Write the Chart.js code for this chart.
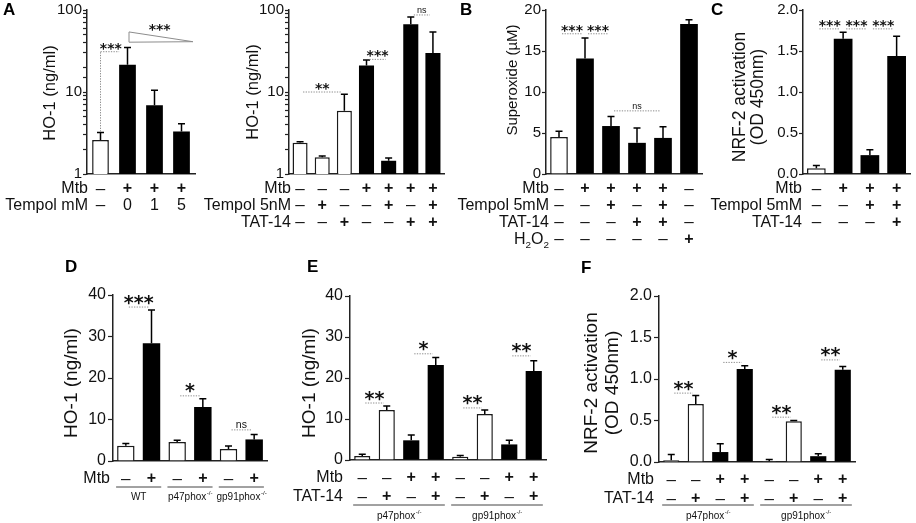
<!DOCTYPE html>
<html><head><meta charset="utf-8">
<script src="https://cdn.jsdelivr.net/npm/chart.js@4.4.1/dist/chart.umd.min.js"></script>
<style>
html,body{margin:0;padding:0;background:#fff;}
#wrap{position:relative;width:916px;height:523px;overflow:hidden;background:#fff;}
#wrap canvas{position:absolute;left:0;top:0;}
</style></head><body><div id="wrap"></div>
<script>
const FONT = '"Liberation Sans", Arial, sans-serif';
const STARFONT = '"DejaVu Sans", sans-serif';

// ---------- Panel A (left): HO-1 vs Tempol dose ----------
const catsA1 = ['Ctrl', 'Mtb', 'Mtb+Tempol 1', 'Mtb+Tempol 5'];
const hoA1 = [2.6, 21.5, 6.9, 3.3];
const semA1 = [0.6, 13.5, 3.6, 0.8];
const mtbA1 = ['–', '+', '+', '+'];
const tempolA1 = ['–', '0', '1', '5'];
const logTicks = [1, 10, 100];

// ---------- Panel A (right): HO-1, Tempol 5nM / TAT-14 ----------
const catsA2 = ['c1', 'c2', 'c3', 'c4', 'c5', 'c6', 'c7'];
const hoA2 = [2.4, 1.6, 5.9, 21, 1.45, 67, 30];
const semA2 = [0.07, 0.06, 3.5, 3.5, 0.12, 15, 24];
const mtbA2 = ['–', '–', '–', '+', '+', '+', '+'];
const tempolA2 = ['–', '+', '–', '–', '+', '–', '+'];
const tatA2 = ['–', '–', '+', '–', '–', '+', '+'];

// ---------- Panel B: Superoxide ----------
const catsB = ['b1', 'b2', 'b3', 'b4', 'b5', 'b6'];
const supB = [4.5, 14.1, 5.85, 3.8, 4.4, 18.3];
const semB = [0.7, 2.5, 1.15, 1.8, 1.35, 0.5];
const mtbB = ['–', '+', '+', '+', '+', '–'];
const tempolB = ['–', '–', '+', '–', '+', '–'];
const tatB = ['–', '–', '–', '+', '+', '–'];
const h2o2B = ['–', '–', '–', '–', '–', '+'];

// ---------- Panel C: NRF-2 activation ----------
const catsC = ['k1', 'k2', 'k3', 'k4'];
const nrfC = [0.07, 1.65, 0.23, 1.44];
const semC = [0.035, 0.08, 0.065, 0.24];
const mtbC = ['–', '+', '+', '+'];
const tempolC = ['–', '–', '+', '+'];
const tatC = ['–', '–', '–', '+'];

// ---------- Panel D: HO-1 in knockouts ----------
const catsD = ['d1', 'd2', 'd3', 'd4', 'd5', 'd6'];
const hoD = [3.7, 28.4, 4.6, 13.0, 2.9, 5.2];
const semD = [0.5, 8.0, 0.4, 2.0, 0.7, 1.2];
const mtbD = ['–', '+', '–', '+', '–', '+'];
const strainD = ['WT', 'WT', 'p47phox-/-', 'p47phox-/-', 'gp91phox-/-', 'gp91phox-/-'];

// ---------- Panel E: HO-1 with TAT-14 ----------
const catsE = ['e1', 'e2', 'e3', 'e4', 'e5', 'e6', 'e7', 'e8'];
const hoE = [1.0, 12.2, 4.8, 23.2, 0.8, 11.2, 3.8, 21.7];
const semE = [0.4, 1.0, 1.3, 1.8, 0.3, 1.0, 1.0, 2.5];
const mtbE = ['–', '–', '+', '+', '–', '–', '+', '+'];
const tatE = ['–', '+', '–', '+', '–', '+', '–', '+'];
const strainE = ['p47phox-/-', 'p47phox-/-', 'p47phox-/-', 'p47phox-/-', 'gp91phox-/-', 'gp91phox-/-', 'gp91phox-/-', 'gp91phox-/-'];

// ---------- Panel F: NRF-2 with TAT-14 ----------
const catsF = ['f1', 'f2', 'f3', 'f4', 'f5', 'f6', 'f7', 'f8'];
const nrfF = [0.02, 0.70, 0.12, 1.12, 0.01, 0.49, 0.07, 1.11];
const semF = [0.07, 0.10, 0.10, 0.04, 0.02, 0.01, 0.03, 0.04];
const mtbF = ['–', '–', '+', '+', '–', '–', '+', '+'];
const tatF = ['–', '+', '–', '+', '–', '+', '–', '+'];
const strainF = strainE.slice();

// ---------- Significance annotations (bar indices, level in data units) ----------
const sigA1 = [{ a: 0, b: 1, at: 31, text: '***', bracket: true }];
const trendA1 = { a: 1, b: 3, hi: 54, lo: 40.5, text: '***' };
const sigA2 = [{ a: 0, b: 2, at: 10, text: '**' }, { a: 3, b: 4, at: 25, text: '***' }, { a: 5, b: 6, at: 87, text: 'ns' }];
const sigB = [{ a: 0, b: 1, at: 17.1, text: '***' }, { a: 1, b: 2, at: 17.1, text: '***' }, { a: 2, b: 4, at: 7.7, text: 'ns' }];
const sigC = [{ a: 0, b: 1, at: 1.77, text: '***' }, { a: 1, b: 2, at: 1.77, text: '***' }, { a: 2, b: 3, at: 1.77, text: '***' }];
const sigD = [{ a: 0, b: 1, at: 37.1, text: '***' }, { a: 2, b: 3, at: 15.7, text: '*' }, { a: 4, b: 5, at: 7.5, text: 'ns' }];
const sigE = [{ a: 0, b: 1, at: 13.9, text: '**' }, { a: 2, b: 3, at: 25.9, text: '*' }, { a: 4, b: 5, at: 12.7, text: '**' }, { a: 6, b: 7, at: 25.4, text: '**' }];
const sigF = [{ a: 0, b: 1, at: 0.83, text: '**' }, { a: 2, b: 3, at: 1.2, text: '*' }, { a: 4, b: 5, at: 0.54, text: '**' }, { a: 6, b: 7, at: 1.23, text: '**' }];

// ---------- drawing helpers ----------
const INK = '#111';
function dotted(ctx, x1, y1, x2, y2) {
  ctx.save();
  ctx.strokeStyle = '#8c8c8c'; ctx.lineWidth = 1; ctx.setLineDash([1.3, 1.3]);
  ctx.beginPath(); ctx.moveTo(x1, y1); ctx.lineTo(x2, y2); ctx.stroke();
  ctx.restore();
}
function drawSigText(ctx, text, cx, ly, cfg) {
  ctx.fillStyle = INK; ctx.textAlign = 'center'; ctx.textBaseline = 'alphabetic';
  if (text === 'ns') {
    ctx.font = `${cfg.nsSize}px ${FONT}`;
    ctx.fillText(text, cx, ly - 1.5);
  } else {
    ctx.font = `bold ${cfg.starSize}px ${STARFONT}`;
    ctx.fillText(text, cx, ly + 0.08 * cfg.starSize);
  }
}
function drawRowLabel(ctx, text, xr, y, size, chem) {
  ctx.fillStyle = INK; ctx.textBaseline = 'middle';
  if (!chem) { ctx.font = `${size}px ${FONT}`; ctx.textAlign = 'right'; ctx.fillText(text, xr, y); return; }
  const parts = text.match(/[A-Za-z]+|\d+/g).map(p => ({ t: p, sub: /\d/.test(p) }));
  const sub = size * 0.62;
  let w = 0;
  parts.forEach(p => { ctx.font = `${p.sub ? sub : size}px ${FONT}`; p.w = ctx.measureText(p.t).width; w += p.w; });
  let x = xr - w; ctx.textAlign = 'left';
  parts.forEach(p => { ctx.font = `${p.sub ? sub : size}px ${FONT}`; ctx.fillText(p.t, x, p.sub ? y + size * 0.38 : y); x += p.w; });
}
function drawGroupLabel(ctx, name, cx, y, size) {
  const m = name.match(/^(.*?)(-\/-)?$/);
  const main = m[1], sup = m[2] || '';
  const supSize = size * 0.62;
  ctx.font = `${size}px ${FONT}`; const w1 = ctx.measureText(main).width;
  ctx.font = `${supSize}px ${FONT}`; const w2 = sup ? ctx.measureText(sup).width : 0;
  let x = cx - (w1 + w2) / 2;
  ctx.fillStyle = INK; ctx.textAlign = 'left'; ctx.textBaseline = 'middle';
  ctx.font = `${size}px ${FONT}`; ctx.fillText(main, x, y);
  if (sup) { ctx.font = `${supSize}px ${FONT}`; ctx.fillText(sup, x + w1 + 0.5, y - size * 0.35); }
}

function deco(cfg) {
  return {
    id: 'deco',
    afterDatasetsDraw(chart) {
      const ctx = chart.ctx, ys = chart.scales.y, meta = chart.getDatasetMeta(0);
      const vals = chart.data.datasets[0].data;
      ctx.save();
      ctx.strokeStyle = '#000'; ctx.lineWidth = 1.5;
      meta.data.forEach((el, i) => {
        const top = ys.getPixelForValue(vals[i] + cfg.sem[i]);
        const cw = cfg.cap / 2;
        ctx.beginPath();
        ctx.moveTo(el.x, el.y); ctx.lineTo(el.x, top);
        ctx.moveTo(el.x - cw, top); ctx.lineTo(el.x + cw, top);
        ctx.stroke();
      });
      ctx.restore();
    },
    afterDraw(chart) {
      const ctx = chart.ctx, ys = chart.scales.y, meta = chart.getDatasetMeta(0);
      const area = chart.chartArea;
      const vals = chart.data.datasets[0].data;
      ctx.save();
      // significance
      (cfg.sig || []).forEach(s => {
        const ea = meta.data[s.a], eb = meta.data[s.b];
        const ly = ys.getPixelForValue(s.at);
        if (s.bracket) {
          const errTop = ys.getPixelForValue(vals[s.a] + cfg.sem[s.a]);
          const xb = eb.x - eb.width / 2;
          dotted(ctx, ea.x, errTop - 1, ea.x, ly);
          dotted(ctx, ea.x, ly, xb, ly);
          drawSigText(ctx, s.text, (ea.x + xb) / 2 + 1, ly, cfg);
        } else {
          const x1 = ea.x + 3, x2 = eb.x - 3;
          dotted(ctx, x1, ly, x2, ly);
          drawSigText(ctx, s.text, (x1 + x2) / 2, ly, cfg);
        }
      });
      if (cfg.trend) {
        const t = cfg.trend;
        const x1 = meta.data[t.a].x + 1.5, x2 = meta.data[t.b].x + meta.data[t.b].width / 2 + 3;
        const yh = ys.getPixelForValue(t.hi), yl = ys.getPixelForValue(t.lo);
        ctx.save();
        ctx.strokeStyle = '#8c8c8c'; ctx.lineWidth = 1; ctx.fillStyle = '#fff';
        ctx.beginPath(); ctx.moveTo(x1, yh); ctx.lineTo(x2, yl - 0.5); ctx.lineTo(x1, yl); ctx.closePath();
        ctx.fill(); ctx.stroke();
        ctx.restore();
        drawSigText(ctx, t.text, x1 + (x2 - x1) * 0.48, yh + 1, cfg);
      }
      // condition rows
      cfg.rows.forEach((r, k) => {
        const yRow = area.bottom + cfg.rowStart + k * cfg.rowGap;
        drawRowLabel(ctx, r.label, area.left + cfg.labelDx, yRow, cfg.rowSize, r.chem);
        r.vals.forEach((v, i) => {
          const el = meta.data[i];
          ctx.fillStyle = INK; ctx.textAlign = 'center'; ctx.textBaseline = 'middle';
          ctx.font = (v === '+' ? 'bold ' : '') + `${v === '–' ? cfg.rowSize + 1 : cfg.rowSize}px ${FONT}`;
          ctx.fillText(v, el.x, yRow);
        });
      });
      // strain groups
      if (cfg.groups) {
        const g = cfg.groups;
        let start = 0;
        for (let i = 1; i <= g.length; i++) {
          if (i === g.length || g[i] !== g[start]) {
            const e1 = meta.data[start], e2 = meta.data[i - 1];
            const x1 = e1.x - e1.width / 2 - 1, x2 = e2.x + e2.width / 2 + 1;
            const yl = area.bottom + cfg.groupLine;
            ctx.save(); ctx.strokeStyle = '#444'; ctx.lineWidth = 1;
            ctx.beginPath(); ctx.moveTo(x1, yl); ctx.lineTo(x2, yl); ctx.stroke(); ctx.restore();
            drawGroupLabel(ctx, g[start], (x1 + x2) / 2, area.bottom + cfg.groupText, cfg.groupSize);
            start = i;
          }
        }
      }
      // axis title
      const T = cfg.title;
      T.lines.forEach((line, k) => {
        ctx.save();
        ctx.translate(area.left + T.dx[k], T.cy);
        ctx.rotate(-Math.PI / 2);
        ctx.fillStyle = INK; ctx.textAlign = 'center'; ctx.textBaseline = 'middle';
        ctx.font = `${T.size}px ${FONT}`;
        ctx.fillText(line, 0, 0);
        ctx.restore();
      });
      // panel letter
      if (cfg.letter) {
        ctx.fillStyle = '#000'; ctx.textAlign = 'left'; ctx.textBaseline = 'top';
        ctx.font = `bold 17px ${FONT}`;
        ctx.fillText(cfg.letter.t, cfg.letter.x, cfg.letter.y);
      }
      ctx.restore();
    }
  };
}

const wrap = document.getElementById('wrap');
function makeChart(cfg) {
  const cv = document.createElement('canvas');
  cv.width = 916; cv.height = 523;
  cv.style.width = '916px'; cv.style.height = '523px';
  wrap.appendChild(cv);
  const A = cfg.area, YW = 60;
  const stim = cfg.vals.map((_, i) => cfg.rows.some(r => r.stim && r.vals[i] === '+'));
  const yScale = cfg.log
    ? { type: 'logarithmic', min: 1, max: 100, ticks: { autoSkip: false, callback: v => (logTicks.includes(v) ? String(v) : '') } }
    : { type: 'linear', min: cfg.min, max: cfg.max, ticks: { stepSize: cfg.step, callback: v => (cfg.dec ? v.toFixed(cfg.dec) : String(v)) } };
  Object.assign(yScale.ticks, { font: { family: FONT, size: cfg.tickSize }, color: INK, padding: cfg.tickPad });
  yScale.grid = { display: true, drawOnChartArea: false, drawTicks: true, tickLength: cfg.tickLen, tickColor: '#222', tickWidth: 1.2 };
  yScale.border = { display: true, color: '#222', width: 1.5 };
  yScale.afterFit = s => { s.width = YW; };
  new Chart(cv, {
    type: 'bar',
    data: {
      labels: cfg.cats,
      datasets: [{
        data: cfg.vals,
        backgroundColor: stim.map(s => (s ? '#000' : '#fff')),
        borderColor: '#1a1a1a',
        borderWidth: stim.map(s => (s ? 0 : 1.5)),
        borderSkipped: 'start',
        barPercentage: cfg.barPct,
        categoryPercentage: 1
      }]
    },
    options: {
      responsive: false, animation: false, events: [],
      layout: { padding: { left: A.l - YW, right: 916 - A.r, top: A.t, bottom: 523 - A.b } },
      plugins: { legend: { display: false }, tooltip: { enabled: false } },
      scales: {
        x: {
          type: 'category', offset: true,
          grid: { display: false }, ticks: { display: false },
          border: { display: true, color: '#222', width: 1.5 },
          afterFit: s => { s.height = 0; }
        },
        y: yScale
      }
    },
    plugins: [deco(cfg)]
  });
}

const topRow = { rowStart: 15, rowGap: 16.8, rowSize: 16, tickSize: 15, tickPad: 1, tickLen: 4, starSize: 14, nsSize: 9, cap: 7 };
const botRow = { rowStart: 18, rowGap: 19, rowSize: 16, tickSize: 16, tickPad: 2, tickLen: 5, starSize: 19, nsSize: 10.5, cap: 7, groupSize: 10 };

makeChart(Object.assign({}, topRow, {
  area: { l: 87, r: 195, t: 10, b: 174 }, log: true, cats: catsA1, vals: hoA1, sem: semA1, barPct: 0.62,
  rows: [{ label: 'Mtb', vals: mtbA1, stim: true }, { label: 'Tempol mM', vals: tempolA1 }],
  labelDx: 1, sig: sigA1, trend: trendA1,
  title: { lines: ['HO-1 (ng/ml)'], dx: [-37], cy: 93, size: 16.5 },
  letter: { t: 'A', x: 3, y: 2 }
}));
makeChart(Object.assign({}, topRow, {
  area: { l: 289, r: 444, t: 10, b: 174 }, log: true, cats: catsA2, vals: hoA2, sem: semA2, barPct: 0.68,
  rows: [{ label: 'Mtb', vals: mtbA2, stim: true }, { label: 'Tempol 5nM', vals: tempolA2 }, { label: 'TAT-14', vals: tatA2 }],
  labelDx: 2, sig: sigA2,
  title: { lines: ['HO-1 (ng/ml)'], dx: [-36], cy: 92, size: 16.5 }
}));
makeChart(Object.assign({}, topRow, {
  area: { l: 546, r: 702, t: 10, b: 174 }, min: 0, max: 20, step: 5, cats: catsB, vals: supB, sem: semB, barPct: 0.68,
  rows: [{ label: 'Mtb', vals: mtbB, stim: true }, { label: 'Tempol 5mM', vals: tempolB }, { label: 'TAT-14', vals: tatB }, { label: 'H2O2', vals: h2o2B, chem: true, stim: true }],
  labelDx: 3, sig: sigB,
  title: { lines: ['Superoxide (µM)'], dx: [-33], cy: 80, size: 15 },
  letter: { t: 'B', x: 460, y: 2 }
}));
makeChart(Object.assign({}, topRow, {
  area: { l: 803, r: 910, t: 10, b: 174 }, min: 0, max: 2, step: 0.5, dec: 1, cats: catsC, vals: nrfC, sem: semC, barPct: 0.7,
  rows: [{ label: 'Mtb', vals: mtbC, stim: true }, { label: 'Tempol 5mM', vals: tempolC }, { label: 'TAT-14', vals: tatC }],
  labelDx: -1, sig: sigC,
  title: { lines: ['NRF-2 activation', '(OD 450nm)'], dx: [-63, -45], cy: 97, size: 17.5 },
  letter: { t: 'C', x: 711, y: 2 }
}));
makeChart(Object.assign({}, botRow, {
  area: { l: 113, r: 267, t: 295, b: 461 }, min: 0, max: 40, step: 10, cats: catsD, vals: hoD, sem: semD, barPct: 0.68,
  rows: [{ label: 'Mtb', vals: mtbD, stim: true }],
  labelDx: -3, sig: sigD, groups: strainD, groupLine: 26, groupText: 36,
  title: { lines: ['HO-1 (ng/ml)'], dx: [-41], cy: 383, size: 19 },
  letter: { t: 'D', x: 65, y: 259 }
}));
makeChart(Object.assign({}, botRow, {
  area: { l: 350, r: 546, t: 296, b: 460 }, min: 0, max: 40, step: 10, cats: catsE, vals: hoE, sem: semE, barPct: 0.66,
  rows: [{ label: 'Mtb', vals: mtbE, stim: true }, { label: 'TAT-14', vals: tatE }],
  labelDx: -7, sig: sigE, groups: strainE, groupLine: 45, groupText: 56,
  title: { lines: ['HO-1 (ng/ml)'], dx: [-40], cy: 383, size: 19 },
  letter: { t: 'E', x: 307, y: 259 }
}));
makeChart(Object.assign({}, botRow, {
  area: { l: 659, r: 855, t: 296, b: 462 }, min: 0, max: 2, step: 0.5, dec: 1, cats: catsF, vals: nrfF, sem: semF, barPct: 0.66,
  rows: [{ label: 'Mtb', vals: mtbF, stim: true }, { label: 'TAT-14', vals: tatF }],
  labelDx: -5, sig: sigF, groups: strainF, groupLine: 43, groupText: 54,
  title: { lines: ['NRF-2 activation', '(OD 450nm)'], dx: [-67, -46], cy: 383, size: 19 },
  letter: { t: 'F', x: 581, y: 260 }
}));
</script>
</body></html>
